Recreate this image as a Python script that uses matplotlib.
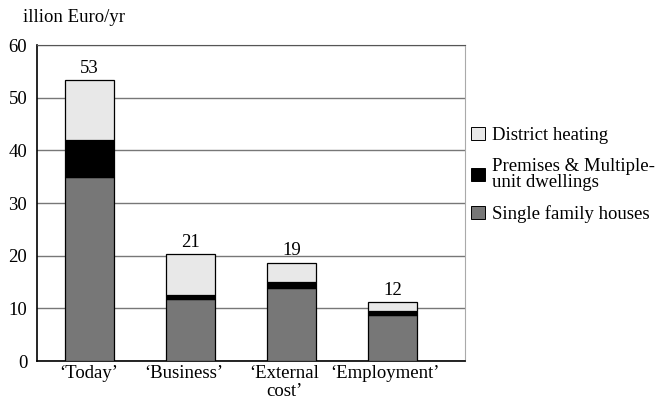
import numpy as np
import matplotlib
matplotlib.use("Agg")
import matplotlib.pyplot as plt
from matplotlib.patches import Patch

plt.rcParams['font.family'] = ['Liberation Serif', 'DejaVu Serif']

categories = ["\u2018Today\u2019", "\u2018Business\u2019", "\u2018External\ncost\u2019", "\u2018Employment\u2019"]
single_family = [35.0, 11.8, 13.9, 8.7]
premises = [7.0, 0.7, 1.1, 0.8]
district = [11.3, 7.8, 3.7, 1.7]
totals = ["53", "21", "19", "12"]
series_labels = ["District heating", "Premises & Multiple-\nunit dwellings", "Single family houses"]
colors = ["#e8e8e8", "#000000", "#777777"]

fs = 13.5

fig = plt.figure(figsize=(6.59, 4.07), dpi=100)
ax = fig.add_axes([37 / 659, 46 / 407, 428 / 659, 316 / 407])

x = np.arange(len(categories))
w = 0.49
sf = np.array(single_family)
pr = np.array(premises)
dh = np.array(district)

ax.bar(x, sf, w, color=colors[2], edgecolor="black", linewidth=0.9, zorder=3)
ax.bar(x, pr, w, bottom=sf, color=colors[1], edgecolor="black", linewidth=0.9, zorder=3)
ax.bar(x, dh, w, bottom=sf + pr, color=colors[0], edgecolor="black", linewidth=0.9, zorder=3)

for xi, top, lab in zip(x, sf + pr + dh, totals):
    ax.text(xi, top + 0.6, lab, ha="center", va="bottom", fontsize=fs)

ax.set_ylim(0, 60)
ax.set_xlim(-0.52, 3.72)
ax.set_yticks(range(0, 61, 10))
ax.tick_params(axis="y", length=0, labelsize=fs, pad=7)
# labels sit a little left of the bar centres in the original
ax.set_xticks(x + np.array([-0.01, -0.07, -0.07, -0.07]))
ax.set_xticklabels(categories, fontsize=fs, linespacing=1.1)
ax.tick_params(axis="x", length=0, pad=3)
ax.grid(axis="y", color="#777777", linewidth=1, zorder=0)

for s in ["left", "bottom"]:
    ax.spines[s].set_color("black")
    ax.spines[s].set_linewidth(1.2)
ax.spines["top"].set_color("#555555")
ax.spines["right"].set_color("#aaaaaa")

fig.text(23 / 659, 1 - 18 / 407, "illion Euro/yr", fontsize=fs, va="center", ha="left")

handles = [Patch(facecolor=c, edgecolor="black", linewidth=0.7) for c in colors]
leg = fig.legend(handles, series_labels, loc="upper left", bbox_to_anchor=(471 / 659, 1 - 127 / 407),
                 frameon=False, fontsize=fs, handlelength=0.72, handleheight=0.72,
                 handletextpad=0.42, labelspacing=0.75, borderaxespad=0, borderpad=0)
for t in leg.get_texts():
    t.set_linespacing(0.92)

fig.savefig("out.png", dpi=100)
